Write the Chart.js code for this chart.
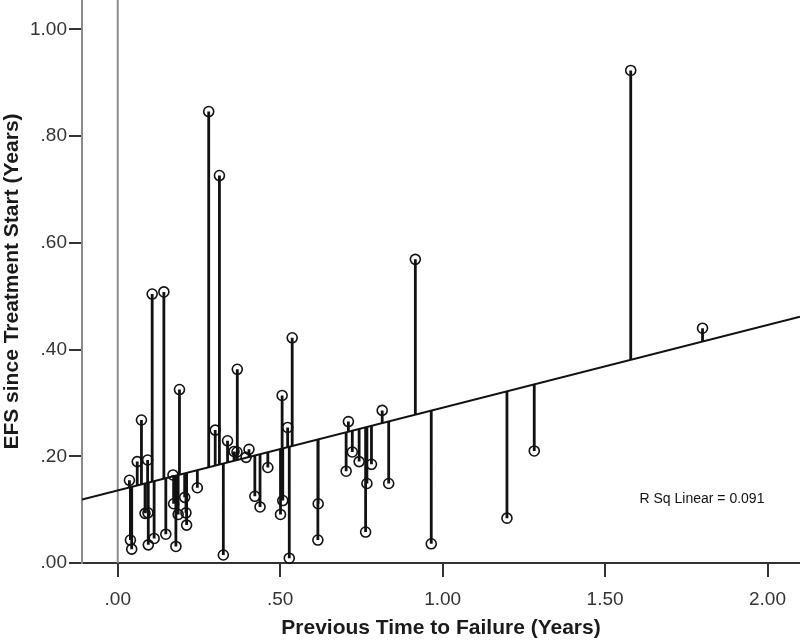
<!DOCTYPE html>
<html>
<head>
<meta charset="utf-8">
<script src="https://cdn.jsdelivr.net/npm/chart.js@4.4.1/dist/chart.umd.min.js"></script>
<style>
  html, body { margin: 0; padding: 0; background: #ffffff; }
  #wrap { width: 800px; height: 641px; }
</style>
</head>
<body>
<div id="wrap"><canvas id="c" width="800" height="641"></canvas></div>
<script>
// ---- data ----
const prevTime = [0.036, 0.039, 0.043, 0.060, 0.073, 0.084, 0.093, 0.092, 0.094, 0.106,
                  0.112, 0.142, 0.148, 0.170, 0.172, 0.179, 0.186, 0.190, 0.206, 0.210,
                  0.212, 0.245, 0.280, 0.300, 0.313, 0.325, 0.338, 0.358, 0.367, 0.368,
                  0.395, 0.404, 0.422, 0.438, 0.462, 0.501, 0.508, 0.506, 0.523, 0.528,
                  0.537, 0.616, 0.617, 0.703, 0.710, 0.722, 0.743, 0.763, 0.767, 0.781,
                  0.814, 0.834, 0.916, 0.965, 1.198, 1.282, 1.579, 1.800];
const efs      = [0.155, 0.043, 0.026, 0.190, 0.268, 0.093, 0.094, 0.193, 0.034, 0.504,
                  0.046, 0.508, 0.054, 0.165, 0.111, 0.031, 0.091, 0.325, 0.123, 0.094,
                  0.071, 0.141, 0.846, 0.249, 0.726, 0.015, 0.229, 0.209, 0.208, 0.363,
                  0.198, 0.213, 0.125, 0.105, 0.179, 0.091, 0.117, 0.314, 0.254, 0.009,
                  0.422, 0.043, 0.111, 0.172, 0.265, 0.208, 0.190, 0.058, 0.149, 0.185,
                  0.286, 0.149, 0.569, 0.036, 0.084, 0.210, 0.923, 0.440];
const fitIntercept = 0.136;
const fitSlope = 0.155;
const rSqLinear = 0.091;
const xRange = [-0.11, 2.10];
const yRange = [0, 1.055];
const xTickValues = [0, 0.5, 1.0, 1.5, 2.0];
const yTickValues = [0, 0.2, 0.4, 0.6, 0.8, 1.0];
const xTitle = 'Previous Time to Failure (Years)';
const yTitle = 'EFS since Treatment Start (Years)';

// ---- derived series ----
const fitAt = x => fitIntercept + fitSlope * x;
const points = prevTime.map((x, i) => ({ x: x, y: efs[i] }));
const stems = [];
prevTime.forEach((x, i) => {
  stems.push({ x: x, y: efs[i] });
  stems.push({ x: x, y: fitAt(x) });
  stems.push({ x: x, y: null });
});
const fitLine = [{ x: xRange[0], y: fitAt(xRange[0]) }, { x: xRange[1], y: fitAt(xRange[1]) }];
const zeroRef = [{ x: 0, y: yRange[0] }, { x: 0, y: yRange[1] }];

const fmt = v => v.toFixed(2).replace(/^0\./, '.');
const tickFont = { family: "'Liberation Sans', Arial, sans-serif", size: 19 };
const titleFont = { family: "'Liberation Sans', Arial, sans-serif", size: 21, weight: 'bold' };

const rsqPlugin = {
  id: 'rsq',
  afterDatasetsDraw(chart) {
    const ctx = chart.ctx;
    const xs = chart.scales.x, ys = chart.scales.y;
    ctx.save();
    ctx.font = "14px 'Liberation Sans', Arial, sans-serif";
    ctx.fillStyle = '#111';
    ctx.textAlign = 'left';
    ctx.textBaseline = 'middle';
    ctx.fillText('R Sq Linear = ' + rSqLinear.toFixed(3), xs.getPixelForValue(1.606), ys.getPixelForValue(0.119));
    ctx.restore();
  }
};

new Chart(document.getElementById('c'), {
  type: 'scatter',
  data: {
    datasets: [
      { data: points, order: 0, pointRadius: 5, pointBorderWidth: 1.6,
        pointBorderColor: '#111', pointBackgroundColor: 'rgba(0,0,0,0)', showLine: false, clip: false },
      { data: stems, order: 1, showLine: true, spanGaps: false, pointRadius: 0,
        borderColor: '#111', borderWidth: 2.8 },
      { data: fitLine, order: 2, showLine: true, pointRadius: 0, borderColor: '#111', borderWidth: 2 },
      { data: zeroRef, order: 3, showLine: true, pointRadius: 0, borderColor: '#8a8a8a', borderWidth: 2 }
    ]
  },
  options: {
    responsive: false,
    animation: false,
    events: [],
    layout: { padding: 0, autoPadding: false },
    plugins: { legend: { display: false }, tooltip: { enabled: false } },
    scales: {
      x: {
        type: 'linear', min: xRange[0], max: xRange[1],
        afterBuildTicks: s => { s.ticks = xTickValues.map(v => ({ value: v })); },
        afterFit: s => { s.height = 78; s.paddingLeft = 0; s.paddingRight = 0; },
        grid: { drawOnChartArea: false, drawTicks: true, tickLength: 14, color: '#333', lineWidth: 2 },
        border: { display: true, color: '#333', width: 2 },
        ticks: { callback: v => fmt(v), font: tickFont, color: '#333', padding: 11, maxRotation: 0, autoSkip: false },
        title: { display: true, text: xTitle, font: titleFont, color: '#1a1a1a', padding: { top: 3, bottom: 0 } }
      },
      y: {
        type: 'linear', min: yRange[0], max: yRange[1],
        afterBuildTicks: s => { s.ticks = yTickValues.map(v => ({ value: v })); },
        afterFit: s => { s.width = 82; s.paddingTop = 0; s.paddingBottom = 0; },
        grid: { drawOnChartArea: false, drawTicks: true, tickLength: 13, color: '#333', lineWidth: 2 },
        border: { display: true, color: '#8a8a8a', width: 2 },
        ticks: { callback: v => fmt(v), font: tickFont, color: '#333', padding: 2, autoSkip: false },
        title: { display: true, text: yTitle, font: titleFont, color: '#1a1a1a', padding: { top: 0, bottom: 0 } }
      }
    }
  },
  plugins: [rsqPlugin]
});
</script>
</body>
</html>
